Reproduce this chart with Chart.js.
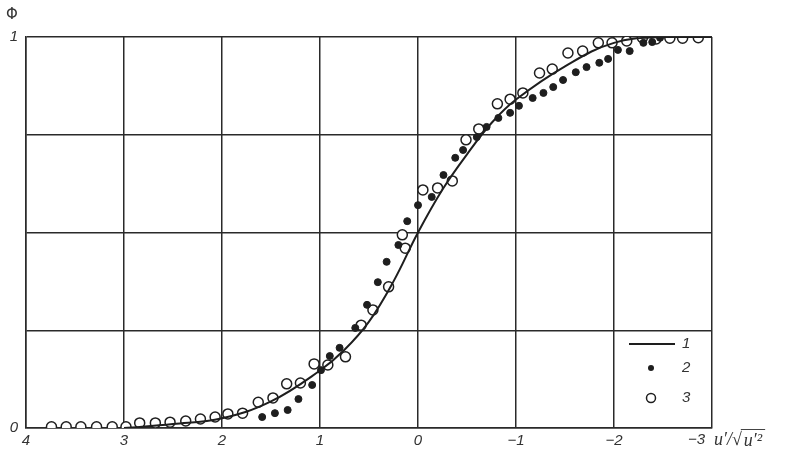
<!DOCTYPE html>
<html>
<head>
<meta charset="utf-8">
<script src="https://cdn.jsdelivr.net/npm/chart.js@4"></script>
<style>
    body { margin: 0; background: #fff; }
    #wrap { width: 800px; height: 453px; }
</style>
</head>
<body>
<div id="wrap"><canvas id="phiChart"></canvas></div>
<script>
// curve 1 (solid line)
const curveX = [3, 2.5, 2, 1.5, 1, 0.75, 0.5, 0.25, 0, -0.25, -0.5, -0.75, -1, -1.5, -2, -2.5, -3];
const curveY = [0, 0.01, 0.025, 0.068, 0.147, 0.2, 0.272, 0.375, 0.5, 0.61, 0.7, 0.78, 0.84, 0.925, 0.985, 1, 1];

// series 2 (filled dots)
const dotsX = [1.59, 1.46, 1.33, 1.22, 1.08, 0.99, 0.90, 0.80, 0.64, 0.52, 0.41, 0.32, 0.20, 0.11, 0.0,
    -0.14, -0.26, -0.38, -0.46, -0.60, -0.70, -0.82, -0.94, -1.03, -1.17, -1.28, -1.38, -1.48, -1.61,
    -1.72, -1.85, -1.94, -2.04, -2.16, -2.30, -2.39, -2.47];
const dotsY = [0.028, 0.038, 0.046, 0.074, 0.11, 0.148, 0.184, 0.205, 0.256, 0.315, 0.373, 0.425, 0.468, 0.529, 0.57,
    0.591, 0.647, 0.691, 0.711, 0.744, 0.77, 0.793, 0.806, 0.824, 0.844, 0.857, 0.872, 0.89, 0.91,
    0.923, 0.934, 0.944, 0.967, 0.964, 0.985, 0.987, 0.998];

// series 3 (open circles)
const ringsX = [3.74, 3.59, 3.44, 3.28, 3.12, 2.98, 2.84, 2.68, 2.53, 2.37, 2.22, 2.07, 1.94, 1.79, 1.63,
    1.48, 1.34, 1.20, 1.06, 0.92, 0.74, 0.58, 0.46, 0.30, 0.16, 0.13, -0.05, -0.20, -0.35, -0.49, -0.62,
    -0.81, -0.94, -1.07, -1.24, -1.37, -1.53, -1.68, -1.84, -1.98, -2.13, -2.29, -2.43, -2.57, -2.70, -2.86];
const ringsY = [0.003, 0.003, 0.003, 0.003, 0.003, 0.003, 0.013, 0.013, 0.015, 0.018, 0.023, 0.028, 0.036, 0.038, 0.066,
    0.077, 0.113, 0.115, 0.164, 0.161, 0.182, 0.263, 0.302, 0.361, 0.494, 0.46, 0.609, 0.614, 0.632, 0.737, 0.765,
    0.829, 0.841, 0.857, 0.908, 0.918, 0.959, 0.964, 0.985, 0.985, 0.99, 0.998, 0.995, 0.997, 0.997, 0.998];

const xTicks = [4, 3, 2, 1, 0, -1, -2];
const yTickLabels = { 0: '0', 1: '1' };

function pts(xs, ys) {
    return xs.map((x, i) => ({ x: x, y: ys[i] }));
}

const ink = '#1e1e1e';
const labelFont = { family: 'Liberation Sans', size: 15, style: 'italic' };

const textPlugin = {
    id: 'extraText',
    afterDraw(chart) {
        const ctx = chart.ctx;
        ctx.save();
        ctx.fillStyle = '#333';
        ctx.textBaseline = 'middle';
        // axis title at the right end: -3 u'/sqrt(u'^2)
        ctx.font = 'italic 15px "Liberation Sans"';
        ctx.fillText('\u22123', 688, 440);
        ctx.font = 'italic 18px "Liberation Serif"';
        const head = 'u\u2032/\u221A';
        const tail = 'u\u2032\u00B2';
        const x0 = 714;
        ctx.fillText(head, x0, 440);
        const wHead = ctx.measureText(head).width;
        ctx.fillText(tail, x0 + wHead + 2, 441);
        const wTail = ctx.measureText(tail).width;
        ctx.beginPath();
        ctx.moveTo(x0 + wHead - 1, 429.5);
        ctx.lineTo(x0 + wHead + wTail + 5, 429.5);
        ctx.strokeStyle = '#444';
        ctx.lineWidth = 1;
        ctx.stroke();
        // y title
        ctx.font = '15px "DejaVu Sans"';
        ctx.fillText('\u03A6', 6, 15);

        // legend
        ctx.font = 'italic 15px "Liberation Sans"';
        ctx.strokeStyle = ink;
        ctx.lineWidth = 2;
        ctx.beginPath();
        ctx.moveTo(629, 344);
        ctx.lineTo(675, 344);
        ctx.stroke();
        ctx.fillText('1', 682, 344);
        ctx.fillStyle = ink;
        ctx.beginPath();
        ctx.arc(651, 368, 3, 0, Math.PI * 2);
        ctx.fill();
        ctx.fillStyle = '#333';
        ctx.fillText('2', 682, 368);
        ctx.lineWidth = 1.5;
        ctx.beginPath();
        ctx.arc(651, 398, 4.5, 0, Math.PI * 2);
        ctx.stroke();
        ctx.fillText('3', 682, 398);
        ctx.restore();
    }
};

new Chart(document.getElementById('phiChart'), {
    type: 'scatter',
    data: {
        datasets: [{
            label: '1',
            type: 'line',
            data: pts(curveX, curveY),
            borderColor: ink,
            borderWidth: 2,
            pointRadius: 0,
            tension: 0.4,
            fill: false
        },
        {
            label: '2',
            data: pts(dotsX, dotsY),
            pointRadius: 3.5,
            pointBackgroundColor: ink,
            pointBorderColor: ink,
            pointBorderWidth: 1
        },
        {
            label: '3',
            data: pts(ringsX, ringsY),
            pointRadius: 5,
            pointBackgroundColor: '#fff',
            pointBorderColor: ink,
            pointBorderWidth: 1.5
        }]
    },
    options: {
        responsive: true,
        maintainAspectRatio: false,
        animation: false,
        layout: { padding: { top: 37, right: 88, left: 0, bottom: 0 } },
        plugins: {
            legend: { display: false },
            tooltip: { enabled: false }
        },
        scales: {
            x: {
                type: 'linear',
                min: -3,
                max: 4,
                reverse: true,
                afterFit: (s) => { s.height = 25; },
                afterBuildTicks: (s) => { s.ticks = [4, 3, 2, 1, 0, -1, -2, -3].map(v => ({ value: v })); },
                grid: { color: '#2a2a2a', lineWidth: 1.5, drawTicks: false },
                border: { color: '#2a2a2a', width: 1.5 },
                ticks: {
                    padding: 4,
                    maxRotation: 0,
                    font: labelFont,
                    color: '#333',
                    callback: (v) => xTicks.includes(v) ? String(v).replace('-', '\u2212') : ''
                }
            },
            y: {
                min: 0,
                max: 1,
                afterFit: (s) => { s.width = 26; },
                grid: { color: '#2a2a2a', lineWidth: 1.5, drawTicks: false },
                border: { color: '#2a2a2a', width: 1.5 },
                ticks: {
                    stepSize: 0.25,
                    padding: 8,
                    font: labelFont,
                    color: '#333',
                    callback: (v) => yTickLabels[v] || ''
                }
            }
        }
    },
    plugins: [textPlugin]
});
</script>
</body>
</html>
